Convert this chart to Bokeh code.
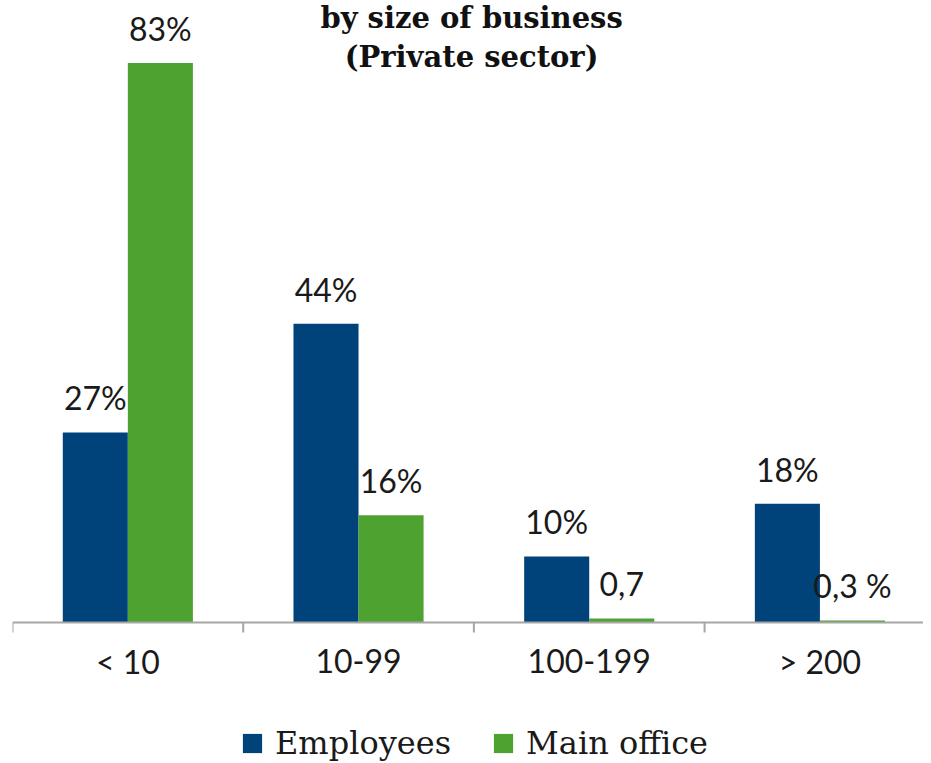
from bokeh.plotting import figure
from bokeh.models import (ColumnDataSource, Range1d, LabelSet, Legend, LegendItem, Span)
from bokeh.transform import dodge
from bokeh.core.properties import value
from bokeh.embed import file_html
from bokeh.resources import INLINE

# ---- data ----
categories = ["< 10", "10-99", "100-199", "> 200"]
employees = [28.2, 44.3, 9.8, 17.6]
main_office = [83.0, 15.9, 0.6, 0.3]
employees_labels = ["27%", "44%", "10%", "18%"]
main_office_labels = ["83%", "16%", "0,7", "0,3 %"]
title_lines = ["by size of business", "(Private sector)"]
series_names = ["Employees", "Main office"]

BLUE = "#00437B"
GREEN = "#4EA22F"
GREY = "#A6A6A6"

PX = 6.741  # pixels per percentage point on the y scale

pos = list(range(len(categories)))
bounds = [i - 0.5 for i in range(len(categories) + 1)]
src = ColumnDataSource(dict(x=pos, emp=employees, mo=main_office, cat=categories,
                            emp_lab=employees_labels, mo_lab=main_office_labels))

p = figure(frame_width=911, frame_height=763, output_backend="svg", toolbar_location=None,
           x_range=Range1d(-0.5, 3.449), y_range=Range1d(-141 / PX, 92.27),
           x_axis_location=None, y_axis_location=None,
           min_border_left=12, min_border_right=0, min_border_top=0, min_border_bottom=0)
p.outline_line_color = None
p.xgrid.visible = False
p.ygrid.visible = False

bw = 0.282
r1 = p.vbar(x=dodge("x", -bw / 2, range=p.x_range), top="emp", bottom=0, width=bw,
            source=src, fill_color=BLUE, line_color=None)
r2 = p.vbar(x=dodge("x", bw / 2, range=p.x_range), top="mo", bottom=0, width=bw,
            source=src, fill_color=GREEN, line_color=None)

for col, lab, off in (("emp", "emp_lab", -bw / 2), ("mo", "mo_lab", bw / 2)):
    ls = LabelSet(x=dodge("x", off, range=p.x_range), y=col, text=lab, source=src,
                  text_align="center", text_baseline="alphabetic", y_offset=22,
                  text_font=value("Lato"), text_font_size=value("32px"),
                  text_color=value("#1a1a1a"))
    p.add_layout(ls)

# title lines
tsrc = ColumnDataSource(dict(x=[1.49, 1.49], y=[89.74, 83.84], t=title_lines))
p.text(x="x", y="y", text="t", source=tsrc, text_align="center", text_baseline="alphabetic",
       text_font=value("DejaVu Serif"), text_font_style="bold", text_font_size="29px",
       text_color="#111111")

# category axis: baseline, boundary ticks and category labels
p.add_layout(Span(location=0, dimension="width", line_color=GREY, line_width=2))
p.segment(x0=bounds, y0=[0] * len(bounds), x1=bounds, y1=[-10 / PX] * len(bounds),
          line_color=GREY, line_width=2)
p.text(x="x", y=-39 / PX, text="cat", source=src, text_align="center",
       text_baseline="alphabetic", text_font=value("Lato"), text_font_size="32px",
       text_color="#1a1a1a")

legend = Legend(items=[LegendItem(label=series_names[0], renderers=[r1]),
                       LegendItem(label=series_names[1], renderers=[r2])],
                orientation="horizontal", location=(228, 1),
                label_text_font="DejaVu Serif", label_text_font_size="32px",
                label_text_color="#1a1a1a",
                glyph_width=24, glyph_height=24, label_standoff=11, spacing=40,
                border_line_color=None, background_fill_alpha=0, padding=0, margin=0)
p.add_layout(legend, "center")

open("out.html", "w").write(file_html(p, INLINE))
